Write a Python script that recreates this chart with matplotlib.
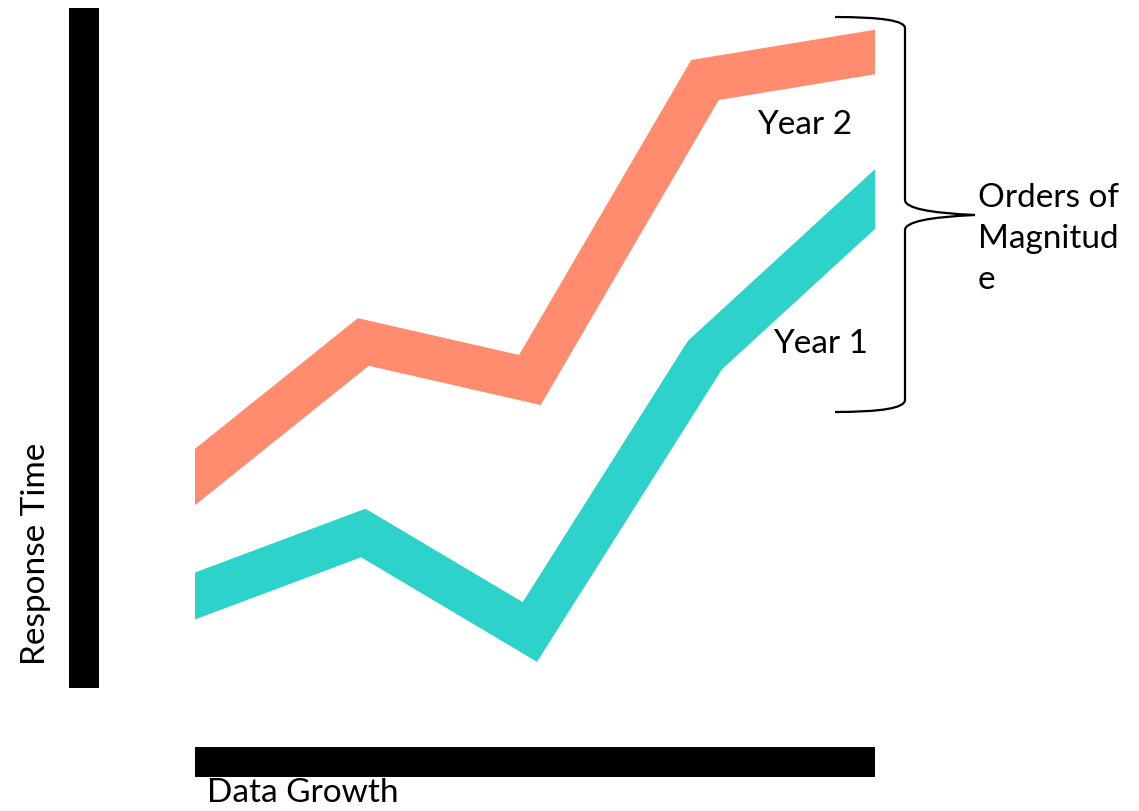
import numpy as np
import matplotlib.pyplot as plt
from matplotlib.path import Path
from matplotlib.patches import PathPatch, Rectangle

# data growth steps and response time (arbitrary units)
growth = [0.0, 0.99, 1.97, 3.0, 4.0]
year2 = [3.34, 4.69, 4.31, 7.31, 7.59]
year1 = [2.15, 2.78, 1.79, 4.56, 6.12]
series_labels = ['Year 1', 'Year 2']
x_label = 'Data Growth'
y_label = 'Response Time'
brace_label = 'Orders of\nMagnitud\ne'

ORANGE = '#FF8C6F'
TEAL = '#2DD3CA'
FONT = ['Lato', 'DejaVu Sans']
W, H = 1139, 811


def extend(xs, ys, pad=0.4):
    # stretch the end segments so the clipped band ends are cut straight
    xs = list(xs)
    ys = list(ys)
    s0 = (ys[1] - ys[0]) / (xs[1] - xs[0])
    s1 = (ys[-1] - ys[-2]) / (xs[-1] - xs[-2])
    xs = [xs[0] - pad] + xs + [xs[-1] + pad]
    ys = [ys[0] - s0 * pad] + ys + [ys[-1] + s1 * pad]
    return xs, ys


fig = plt.figure(figsize=(W / 100, H / 100), dpi=100)

# overlay in pixel coordinates for the decorations
deco = fig.add_axes([0, 0, 1, 1])
deco.set_xlim(0, W)
deco.set_ylim(H, 0)
deco.axis('off')

ax = fig.add_axes([195 / W, 0, 680 / W, 1])
ax.set_xlim(growth[0], growth[-1])
ax.set_ylim(0, H / 100)
ax.axis('off')
ax.patch.set_alpha(0)

lw = 44 * 72 / 100
for ys, c in [(year2, ORANGE), (year1, TEAL)]:
    ex, ey = extend(growth, ys)
    ax.plot(ex, ey, color=c, lw=lw, solid_joinstyle='miter',
            solid_capstyle='butt', clip_on=True)

# thick black bars standing in for the axes
deco.add_patch(Rectangle((69, 8), 30, 680, color='black', lw=0))
deco.add_patch(Rectangle((195, 747), 680, 30, color='black', lw=0))

# curly brace
verts = [(835, 17), (905, 17), (905, 28), (905, 40),
         (905, 200), (905, 212), (975, 215),
         (905, 218), (905, 230),
         (905, 400), (905, 412), (835, 412)]
codes = [Path.MOVETO, Path.CURVE3, Path.CURVE3, Path.LINETO,
         Path.LINETO, Path.CURVE3, Path.CURVE3,
         Path.CURVE3, Path.CURVE3,
         Path.LINETO, Path.CURVE3, Path.CURVE3]
deco.add_patch(PathPatch(Path(verts, codes), fill=False, lw=1.6, color='black'))

fs = 24
deco.text(757, 125, series_labels[1], fontsize=fs, family=FONT, va='center', ha='left')
deco.text(773, 344, series_labels[0], fontsize=fs, family=FONT, va='center', ha='left')
deco.text(978, 239, brace_label, fontsize=fs, family=FONT, va='center', ha='left',
          linespacing=1.45)
deco.text(36, 554, y_label, fontsize=fs, family=FONT, va='center', ha='center',
          rotation=90)
deco.text(207, 808, x_label, fontsize=fs, family=FONT, va='bottom', ha='left')

fig.savefig('out.png', dpi=100)
